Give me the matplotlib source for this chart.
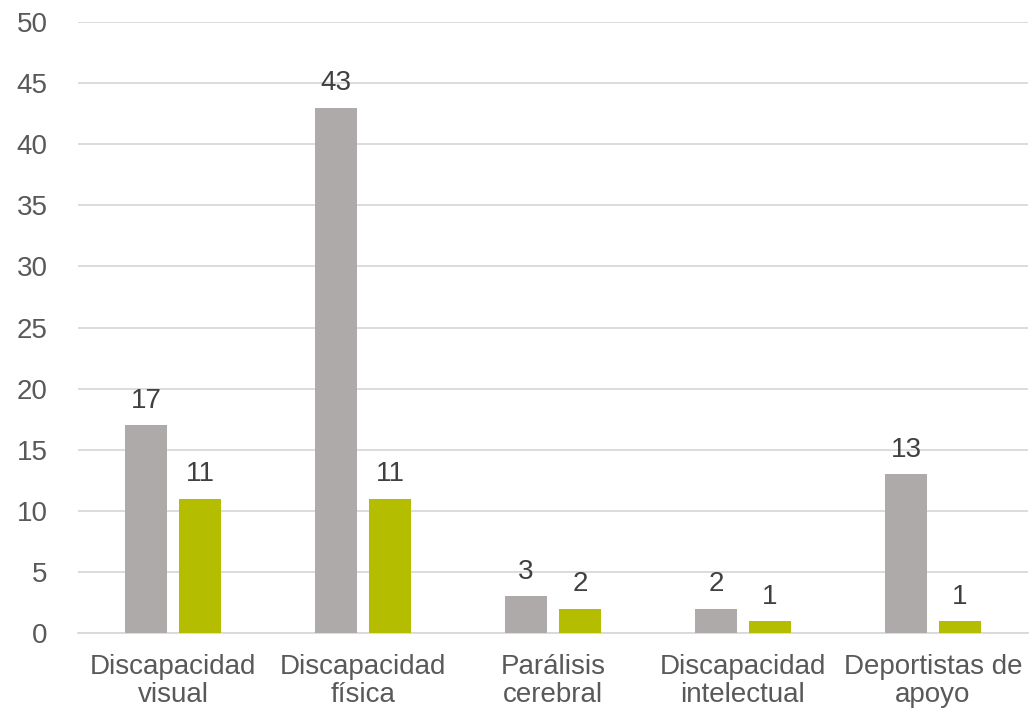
import matplotlib
matplotlib.use("Agg")
import matplotlib.pyplot as plt
import numpy as np

categories = ["Discapacidad\nvisual", "Discapacidad\nfísica", "Parálisis\ncerebral",
              "Discapacidad\nintelectual", "Deportistas de\napoyo"]
serie_gris = [17, 43, 3, 2, 13]
serie_verde = [11, 11, 2, 1, 1]
yticks = [0, 5, 10, 15, 20, 25, 30, 35, 40, 45, 50]

plt.rcParams['font.family'] = ['Liberation Sans', 'DejaVu Sans']

fig = plt.figure(figsize=(10.32, 7.13), dpi=100)
ax = fig.add_axes([78/1032, 80/713, 950/1032, 611/713])

x = np.arange(len(categories))
w = 0.221
off = 0.142
b1 = ax.bar(x - off, serie_gris, w, color="#AEAAAA", zorder=3)
b2 = ax.bar(x + off, serie_verde, w, color="#B5BD00", zorder=3)

for bars, vals in ((b1, serie_gris), (b2, serie_verde)):
    for r, v in zip(bars, vals):
        ax.annotate(str(v), (r.get_x() + r.get_width() / 2, v), xytext=(0, 8),
                    textcoords="offset points", ha="center", va="bottom",
                    fontsize=20, color="#404040")

ax.set_xlim(-0.5, len(categories) - 0.5)
ax.set_ylim(0, 50)
ax.set_yticks(yticks)
ax.set_yticklabels([str(t) for t in yticks])
ax.set_xticks(x)
ax.set_xticklabels(categories, linespacing=1.1)
ax.tick_params(axis="both", length=0, labelsize=20, labelcolor="#595959")
ax.tick_params(axis="y", pad=22)
ax.tick_params(axis="x", pad=15)

ax.grid(axis="y", color="#D9D9D9", linewidth=1.3, zorder=0)
for s in ["top", "right", "left"]:
    ax.spines[s].set_visible(False)
ax.spines["bottom"].set_color("#D9D9D9")
ax.spines["bottom"].set_linewidth(1.3)

fig.savefig("out.png", dpi=100)
